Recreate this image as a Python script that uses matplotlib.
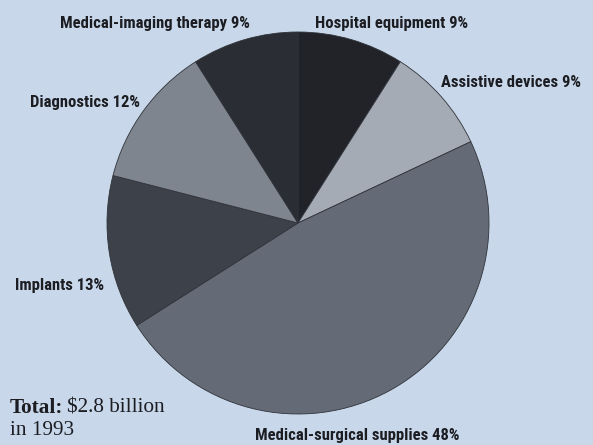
import numpy as np
import matplotlib
matplotlib.use("Agg")
import matplotlib.pyplot as plt

# datos del grafico (orden horario desde arriba)
categorias = ["Hospital equipment", "Assistive devices", "Medical-surgical supplies",
              "Implants", "Diagnostics", "Medical-imaging therapy"]
porcentajes = [9, 9, 48, 13, 12, 9]
colores = ["#222328", "#a4abb4", "#646b76", "#3d424a", "#7e858f", "#2a2d34"]

fondo = "#c8d8ea"
fig = plt.figure(figsize=(5.93, 4.45), dpi=100, facecolor=fondo)

# ejes cuadrados centrados en el pastel
cx, cy, r = 298, 222, 191
ax = fig.add_axes([(cx - r) / 593, (cy - r) / 445, 2 * r / 593, 2 * r / 445])
ax.pie(porcentajes, colors=colores, startangle=90, counterclock=False,
       wedgeprops=dict(edgecolor="#30333a", linewidth=0.6))
ax.set_xlim(-1, 1)
ax.set_ylim(-1, 1)
ax.set_aspect("auto")
ax.axis("off")

fuente = ["Roboto Condensed", "Liberation Sans Narrow", "Roboto", "DejaVu Sans"]
etiquetas = [f"{c} {p}%" for c, p in zip(categorias, porcentajes)]
# posiciones de las etiquetas en pixeles (centro x, linea base y)
pos = [(392, 28), (511, 87), (357, 440), (60, 290), (85, 107), (155, 28)]
for txt, (px, py) in zip(etiquetas, pos):
    fig.text(px / 593, 1 - py / 445, txt, ha="center", va="baseline",
             family=fuente, weight="bold", fontsize=12, color="#1c1d22")

serif = ["Liberation Serif", "DejaVu Serif"]
fig.text(10 / 593, 1 - 413 / 445, "Total:", ha="left", va="baseline",
         family=serif, weight="bold", fontsize=15.3, color="#1c1d22")
fig.text(67 / 593, 1 - 413 / 445, "\\$2.8 billion", ha="left", va="baseline",
         family=serif, fontsize=15.3, color="#1c1d22")
fig.text(10 / 593, 1 - 435 / 445, "in 1993", ha="left", va="baseline",
         family=serif, fontsize=15.3, color="#1c1d22")

fig.savefig("out.png", dpi=100, facecolor=fondo)
